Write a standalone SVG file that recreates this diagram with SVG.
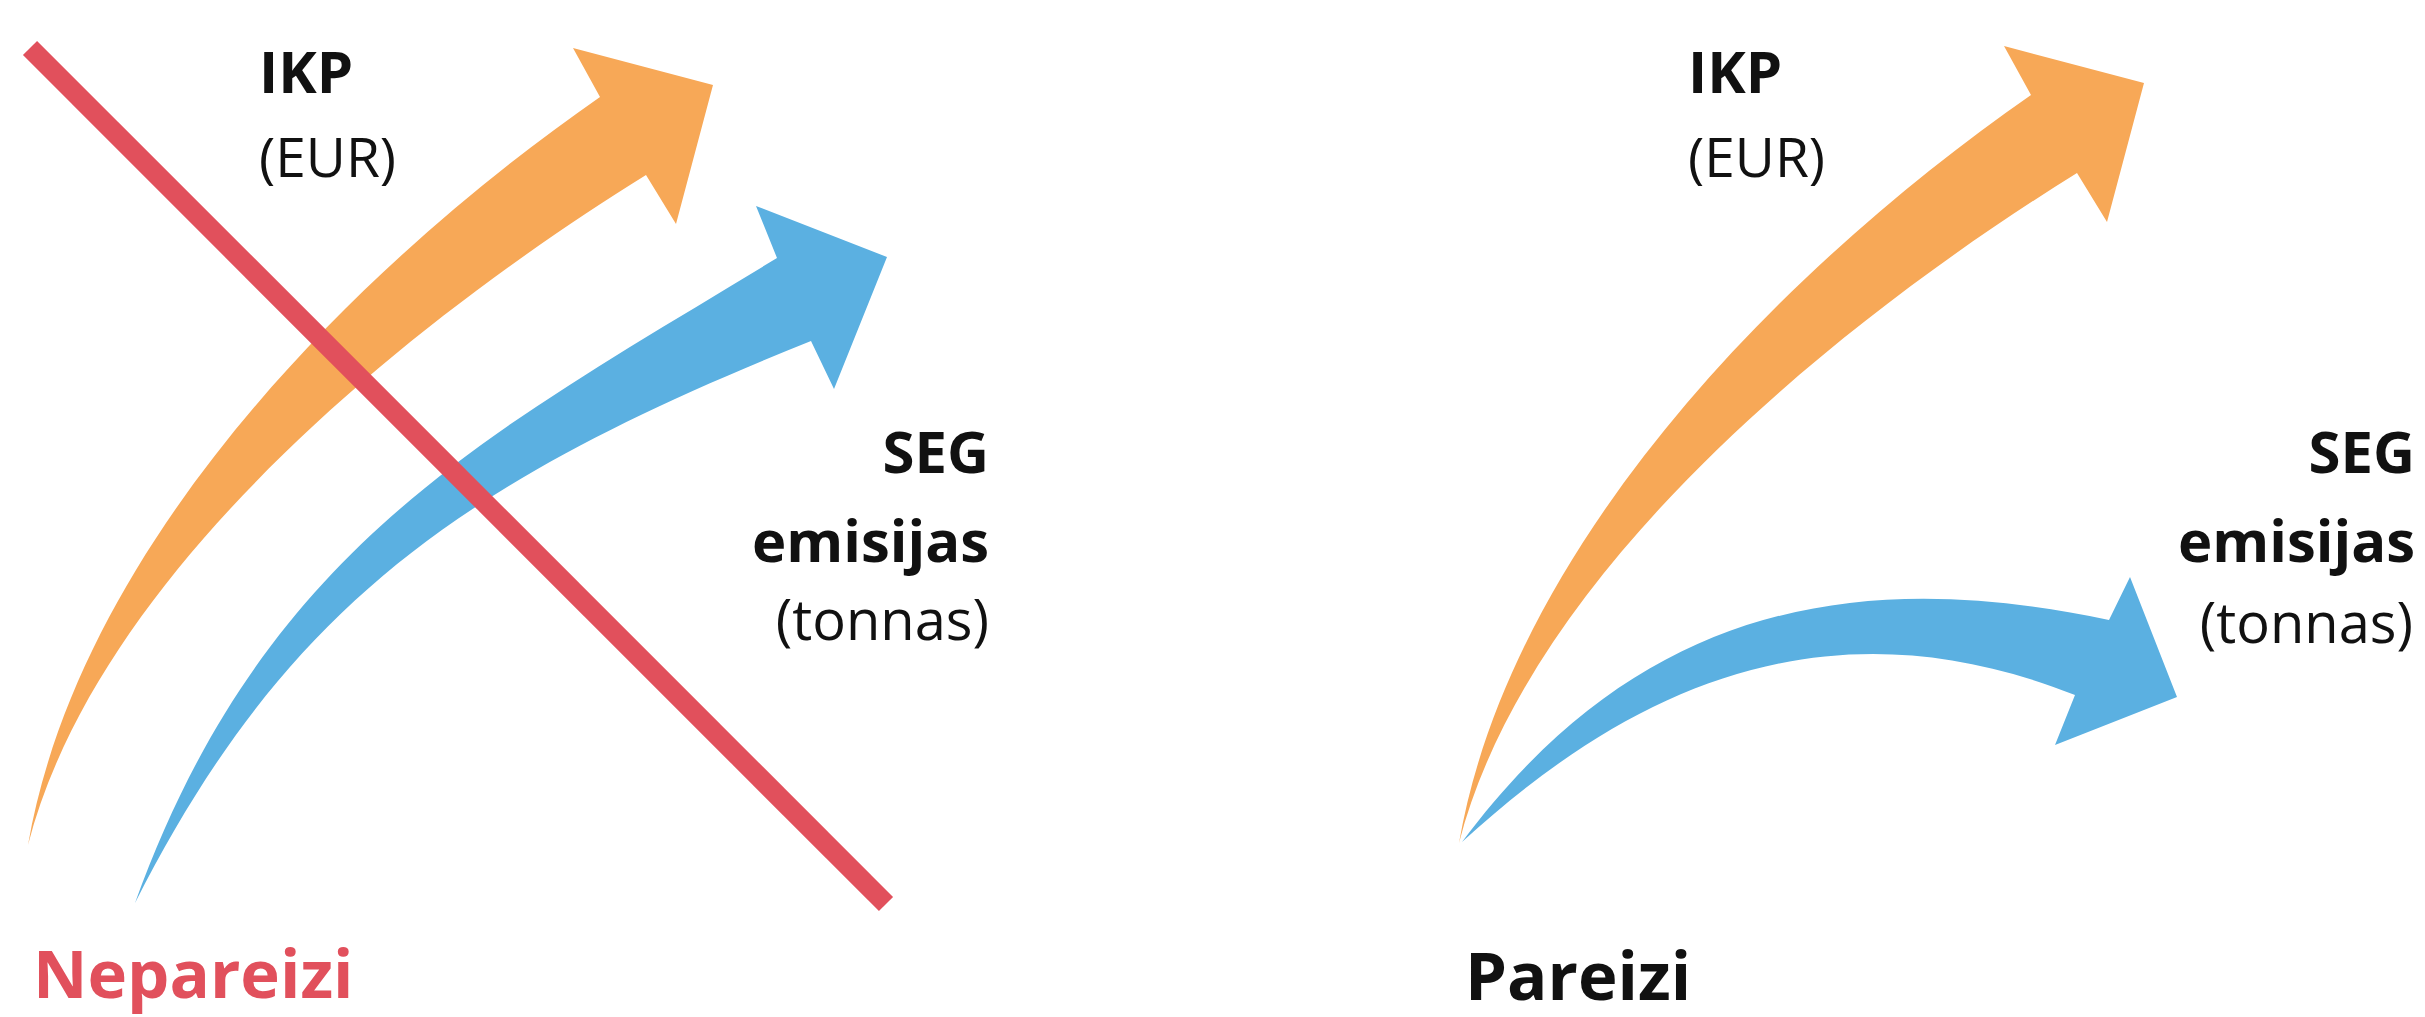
<svg xmlns="http://www.w3.org/2000/svg" width="2425" height="1017" viewBox="0 0 2425 1017">
<style>
  .orange { fill: #F7A857; }
  .blue { fill: #5BB0E1; }
  .cross { stroke: #E1505C; stroke-width: 20; stroke-linecap: butt; fill: none; }
  .lbl { font-family: "Open Sans", "Noto Sans", "Liberation Sans", sans-serif; fill: #111; font-weight: 500; }
  .b { font-weight: 700; }
  .title { font-family: "Open Sans", "Noto Sans", "Liberation Sans", sans-serif; font-weight: 700; font-size: 67px; }
</style>
<rect width="2425" height="1017" fill="#FFFFFF"/>

<g id="connectors">
  <path id="ikp-arrow-left" class="orange" d="M 28,845 C 80,545 354,268 600,97 L 573,48 L 713,85 L 676,224 L 646,175 C 408,323 98,573 28,845 Z"/>
  <path id="seg-arrow-left" class="blue" d="M 135,903 C 264,546 486,435 777,258 L 756,206 L 887,257 L 834,389 L 811,341 C 458,482 284,609 135,903 Z"/>
  <path id="ikp-arrow-right" class="orange" transform="translate(1431,-2)" d="M 28,845 C 80,545 354,268 600,97 L 573,48 L 713,85 L 676,224 L 646,175 C 408,323 98,573 28,845 Z"/>
  <path id="seg-arrow-right" class="blue" d="M 1462,842 C 1642,600 1864,568 2109,620 L 2130,577 L 2177,697 L 2055,745 L 2075,695 C 1842,603 1647,672 1462,842 Z"/>
  <line id="cross-out" class="cross" x1="30" y1="48" x2="886" y2="904"/>
</g>

<g id="left-ikp-label" class="lbl">
  <text x="259" y="93" class="b" font-size="58">IKP</text>
  <text x="259" y="177" font-size="55">(EUR)</text>
</g>
<g id="left-seg-label" class="lbl" text-anchor="end">
  <text x="989" y="473" class="b" font-size="58">SEG</text>
  <text x="989" y="562" class="b" font-size="58">emisijas</text>
  <text x="989" y="640" font-size="56">(tonnas)</text>
</g>
<g id="left-title">
  <text x="33" y="998" class="title" fill="#E1505C">Nepareizi</text>
</g>

<g id="right-ikp-label" class="lbl">
  <text x="1688" y="93" class="b" font-size="58">IKP</text>
  <text x="1688" y="177" font-size="55">(EUR)</text>
</g>
<g id="right-seg-label" class="lbl" text-anchor="end">
  <text x="2415" y="473" class="b" font-size="58">SEG</text>
  <text x="2415" y="562" class="b" font-size="58">emisijas</text>
  <text x="2413" y="643" font-size="56">(tonnas)</text>
</g>
<g id="right-title">
  <text x="1465" y="1000" class="title" fill="#111">Pareizi</text>
</g>
</svg>
